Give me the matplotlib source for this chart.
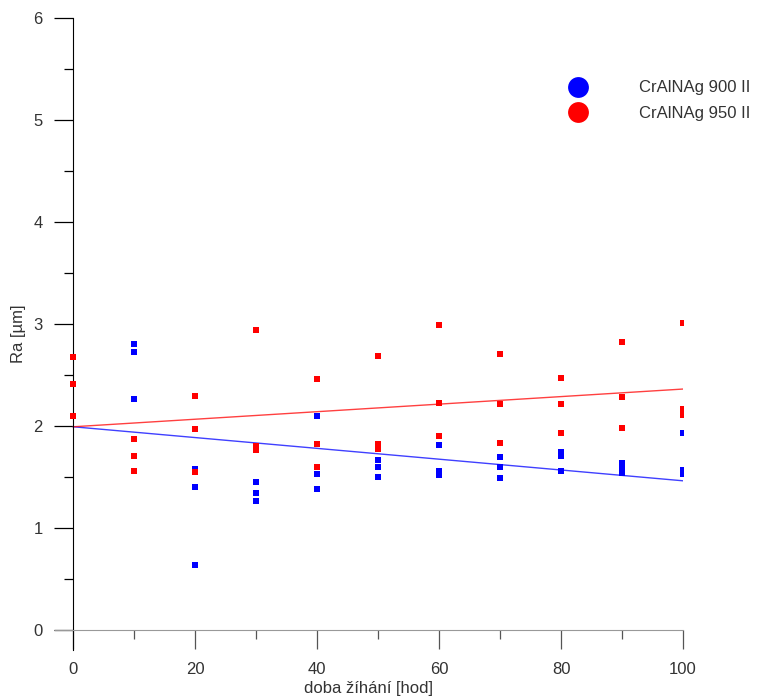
import matplotlib

matplotlib.use("Agg")
import matplotlib.pyplot as plt
from matplotlib.lines import Line2D
from matplotlib.ticker import MultipleLocator

plt.rcParams["font.family"] = ["Liberation Sans", "DejaVu Sans"]

# annealing time [h] and roughness Ra [um]
time_900 = [10, 10, 10, 20, 20, 20, 30, 30, 30, 40, 40, 40, 50, 50, 50,
            60, 60, 60, 70, 70, 70, 80, 80, 80, 90, 90, 90, 100, 100, 100]
ra_900 = [2.80, 2.72, 2.26, 1.58, 1.40, 0.63, 1.45, 1.34, 1.26, 2.10, 1.53, 1.38,
          1.66, 1.60, 1.50, 1.81, 1.56, 1.52, 1.69, 1.60, 1.49, 1.74, 1.70, 1.56,
          1.63, 1.59, 1.54, 1.93, 1.57, 1.53]

time_950 = [0, 0, 0, 10, 10, 10, 20, 20, 20, 30, 30, 30, 40, 40, 40, 50, 50, 50,
            60, 60, 60, 70, 70, 70, 80, 80, 80, 90, 90, 90, 100, 100, 100]
ra_950 = [2.67, 2.41, 2.10, 1.87, 1.70, 1.56, 2.29, 1.97, 1.55, 2.94, 1.80, 1.76,
          2.46, 1.82, 1.60, 2.68, 1.82, 1.77, 2.99, 2.22, 1.90, 2.70, 2.21, 1.83,
          2.47, 2.21, 1.93, 2.82, 2.28, 1.98, 3.01, 2.16, 2.11]

# linear trends
trend_time = [0, 100]
trend_900 = [1.99, 1.46]
trend_950 = [1.99, 2.36]

labels = ["CrAlNAg 900 II", "CrAlNAg 950 II"]
colors = ["#0000ff", "#ff0000"]

fig = plt.figure(figsize=(7.63, 6.97), dpi=100)
ax = fig.add_axes([0.0721, 0.0674, 0.823, 0.9068])

ax.plot(trend_time, trend_900, color=colors[0], lw=1.0, alpha=0.75, zorder=2)
ax.plot(trend_time, trend_950, color=colors[1], lw=1.0, alpha=0.75, zorder=2)
ax.plot(time_900, ra_900, "s", color=colors[0], ms=4.5, mew=0, zorder=3)
ax.plot(time_950, ra_950, "s", color=colors[1], ms=4.5, mew=0, zorder=3)

ax.set_xlim(-3, 100)
ax.set_ylim(-0.2, 6)
ax.spines["top"].set_visible(False)
ax.spines["right"].set_visible(False)
ax.spines["left"].set_position(("data", 0))
ax.spines["bottom"].set_position(("data", 0))
ax.spines["left"].set_color("black")
ax.spines["bottom"].set_color("#999999")

ax.xaxis.set_major_locator(MultipleLocator(20))
ax.xaxis.set_minor_locator(MultipleLocator(10))
ax.yaxis.set_major_locator(MultipleLocator(1))
ax.yaxis.set_minor_locator(MultipleLocator(0.5))
ax.tick_params(axis="both", which="major", length=14, width=0.9, direction="out",
               labelsize=12, labelcolor="#333333")
ax.tick_params(axis="both", which="minor", length=6.5, width=0.9, direction="out")
ax.tick_params(axis="x", which="both", color="#555555", pad=9)
ax.tick_params(axis="y", which="both", color="black", pad=8)

ax.set_xlabel("doba žíhání [hod]", fontsize=12, color="#333333", labelpad=3)
ax.set_ylabel("Ra [µm]", fontsize=12, color="#333333")
ax.yaxis.set_label_coords(-0.046, 0.5)

handles = [Line2D([], [], ls="none", marker="o", ms=15, color=c, mew=0) for c in colors]
ax.legend(handles, labels, loc="upper left", bbox_to_anchor=(0.782, 0.925),
          frameon=False, fontsize=12, handletextpad=2.7, labelspacing=0.62,
          labelcolor="#333333")

fig.savefig("out.png", dpi=100)
